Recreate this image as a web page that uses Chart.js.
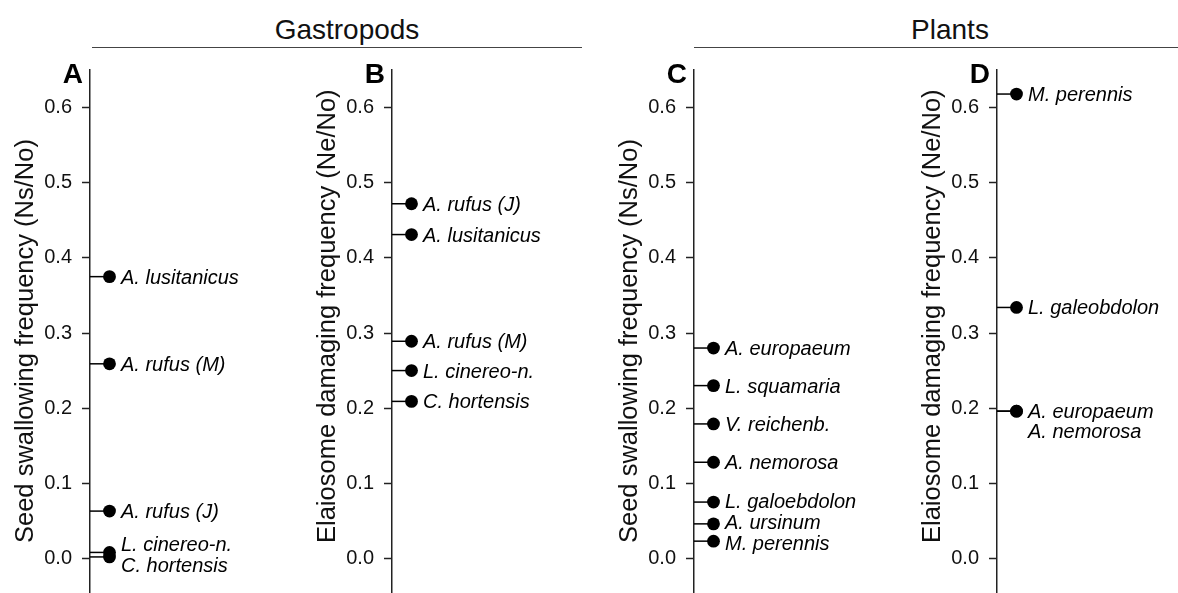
<!DOCTYPE html>
<html>
<head>
<meta charset="utf-8">
<script src="https://cdn.jsdelivr.net/npm/chart.js@4"></script>
<style>
body { margin: 0; width: 1178px; height: 593px; overflow: hidden; background: #fff; font-family: "Liberation Sans", Arial, sans-serif; }
.panel { position: absolute; top: 0; }
.head { position: absolute; top: 16px; width: 300px; font-size: 28px; line-height: 28px; color: #111; text-align: center; }
.rule { position: absolute; top: 47px; height: 0; border-top: 1.5px solid #444; }
</style>
</head>
<body>
<div class="head" style="left:197px">Gastropods</div>
<div class="rule" style="left:92px;width:490px"></div>
<div class="head" style="left:800px">Plants</div>
<div class="rule" style="left:694px;width:484px"></div>

<canvas id="panel-a" class="panel" width="302" height="593" style="left:0px"></canvas>
<canvas id="panel-b" class="panel" width="302" height="593" style="left:302px"></canvas>
<canvas id="panel-c" class="panel" width="303" height="593" style="left:604px"></canvas>
<canvas id="panel-d" class="panel" width="271" height="593" style="left:907px"></canvas>

<script>
// Gastropods (panels A and B)
var gastropodSpecies = ['A. lusitanicus', 'A. rufus (M)', 'A. rufus (J)', 'L. cinereo-n.', 'C. hortensis'];
var gastropodSwallowing = [0.375, 0.259, 0.063, 0.008, 0.002];
var gastropodDamaging   = [0.431, 0.289, 0.472, 0.250, 0.209];

// Plants (panels C and D)
var plantSpeciesC = ['A. europaeum', 'L. squamaria', 'V. reichenb.', 'A. nemorosa', 'L. galoebdolon', 'A. ursinum', 'M. perennis'];
var plantSwallowing = [0.280, 0.230, 0.179, 0.128, 0.075, 0.046, 0.023];
var plantSpeciesD = ['M. perennis', 'L. galeobdolon', 'A. europaeum', 'A. nemorosa'];
var plantDamaging = [0.618, 0.334, 0.196, 0.196];

var tickValues = [0.0, 0.1, 0.2, 0.3, 0.4, 0.5, 0.6];

var FONT = '"Liberation Sans", Arial, sans-serif';
var AXIS_W = 90;    // width of the y axis block
var DOT_DX = 19.5;  // dot distance from the axis line
var GAP = 21;       // min vertical distance between labels

Chart.defaults.font.family = FONT;

// stems from the axis to each dot, species labels, panel letter and axis title
var stemLabels = {
    id: 'stemLabels',
    beforeDatasetsDraw: function(chart) {
        var ctx = chart.ctx, area = chart.chartArea;
        ctx.save();
        ctx.strokeStyle = '#000';
        ctx.lineWidth = 1.5;
        chart.getDatasetMeta(0).data.forEach(function(p) {
            ctx.beginPath();
            ctx.moveTo(area.left, p.y);
            ctx.lineTo(p.x, p.y);
            ctx.stroke();
        });
        ctx.restore();
    },
    afterDraw: function(chart, args, opts) {
        var ctx = chart.ctx, area = chart.chartArea;
        var pts = chart.getDatasetMeta(0).data;
        var values = chart.data.datasets[0].data;

        // species with the same value share one stacked label
        var items = [];
        values.forEach(function(v, i) {
            var last = items[items.length - 1];
            if (last && last.value === v.y) { last.lines.push(opts.names[i]); return; }
            items.push({ value: v.y, py: pts[i].y, px: pts[i].x, lines: [opts.names[i]] });
        });
        items.sort(function(a, b) { return a.py - b.py; });

        // push overlapping labels apart, centred on their dots
        var blocks = [];
        items.forEach(function(it) {
            blocks.push({ items: [it], offs: [0], size: GAP * it.lines.length, start: it.py });
            while (blocks.length > 1) {
                var a = blocks[blocks.length - 2], c = blocks[blocks.length - 1];
                if (a.start + a.size <= c.start) break;
                var m = { items: a.items.concat(c.items), offs: a.offs.concat(c.offs.map(function(o) { return o + a.size; })), size: a.size + c.size };
                var sum = 0;
                m.items.forEach(function(x, k) { sum += x.py - m.offs[k]; });
                m.start = sum / m.items.length;
                blocks.splice(-2, 2, m);
            }
        });

        ctx.save();
        ctx.fillStyle = '#000';
        ctx.font = 'italic 20px ' + FONT;
        ctx.textAlign = 'left';
        ctx.textBaseline = 'alphabetic';
        blocks.forEach(function(b) {
            b.items.forEach(function(it, k) {
                it.lines.forEach(function(line, j) {
                    ctx.fillText(line, it.px + 11.5, b.start + b.offs[k] + j * 20 + 7);
                });
            });
        });

        // panel letter
        ctx.font = 'bold 28px ' + FONT;
        ctx.textAlign = 'right';
        ctx.fillText(opts.letter, area.left - 7, 83);

        // rotated axis title, starting near the bottom
        ctx.translate(area.left - 57, 543);
        ctx.rotate(-Math.PI / 2);
        ctx.font = '25.5px ' + FONT;
        ctx.fillStyle = '#111';
        ctx.textAlign = 'left';
        ctx.fillText(opts.title, 0, 0);
        ctx.restore();
    }
};

function makePanel(id, letter, title, names, values) {
    var canvas = document.getElementById(id);
    var plotW = canvas.width - AXIS_W;
    return new Chart(canvas, {
        type: 'scatter',
        data: {
            datasets: [{
                data: values.map(function(v) { return { x: 1, y: v }; }),
                pointRadius: 6.4,
                pointHoverRadius: 6.4,
                backgroundColor: '#000',
                borderWidth: 0,
                clip: false
            }]
        },
        options: {
            responsive: false,
            animation: false,
            layout: { autoPadding: false, padding: { top: 70, bottom: 0, left: 0, right: 0 } },
            scales: {
                x: { type: 'linear', display: false, min: 0, max: plotW / DOT_DX },
                y: {
                    type: 'linear',
                    min: -0.046,
                    max: 0.65,
                    afterBuildTicks: function(scale) {
                        scale.ticks = tickValues.map(function(v) { return { value: v }; });
                    },
                    afterFit: function(scale) {
                        scale.width = AXIS_W;
                        // the axis runs to the bottom edge, no room kept for labels
                        scale.paddingTop = 0;
                        scale.paddingBottom = 0;
                    },
                    ticks: {
                        padding: 10,
                        color: '#111',
                        font: { size: 20 },
                        callback: function(v) { return v.toFixed(1); }
                    },
                    grid: { drawOnChartArea: false, drawTicks: true, tickLength: 8, tickColor: '#222', tickWidth: 1.5 },
                    border: { display: true, color: '#222', width: 1.5 }
                }
            },
            plugins: {
                legend: { display: false },
                tooltip: { enabled: false },
                stemLabels: { letter: letter, title: title, names: names }
            }
        },
        plugins: [stemLabels]
    });
}

function initPanels() {
    makePanel('panel-a', 'A', 'Seed swallowing frequency (Ns/No)', gastropodSpecies, gastropodSwallowing);
    makePanel('panel-b', 'B', 'Elaiosome damaging frequency (Ne/No)', gastropodSpecies, gastropodDamaging);
    makePanel('panel-c', 'C', 'Seed swallowing frequency (Ns/No)', plantSpeciesC, plantSwallowing);
    makePanel('panel-d', 'D', 'Elaiosome damaging frequency (Ne/No)', plantSpeciesD, plantDamaging);
}
document.addEventListener('DOMContentLoaded', initPanels);
</script>
</body>
</html>
